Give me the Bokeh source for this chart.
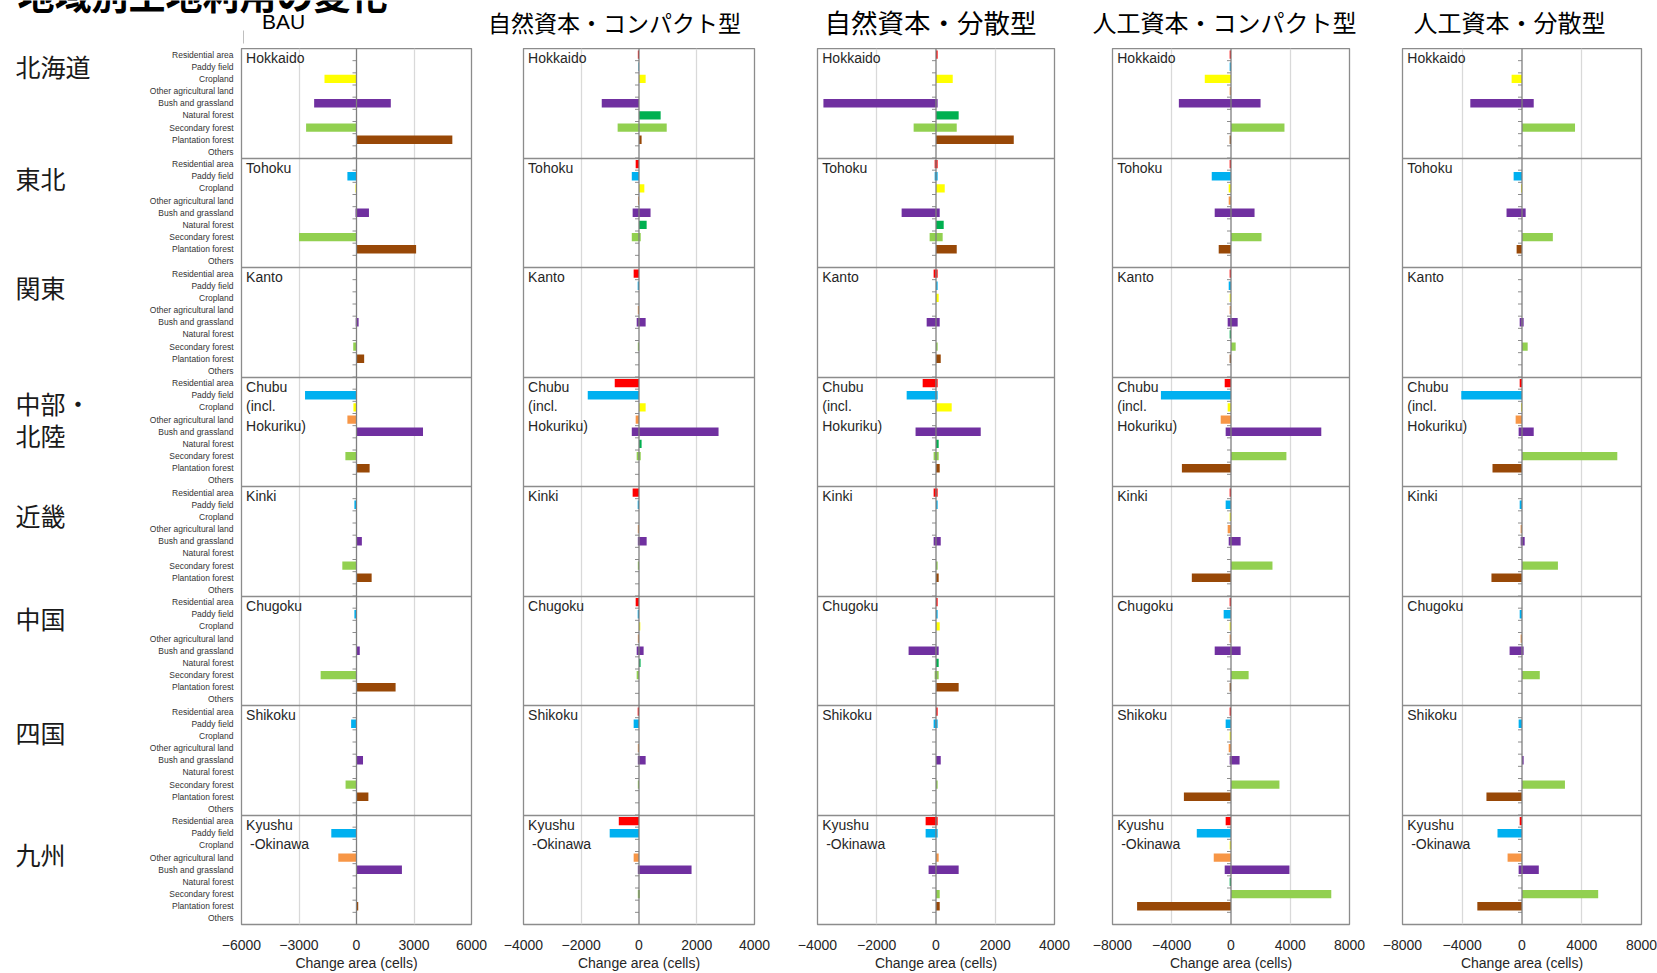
from bokeh.plotting import figure
from bokeh.layouts import row, column
from bokeh.models import Range1d, FixedTicker, Span, ColumnDataSource, Grid
from bokeh.core.properties import value
from bokeh.embed import file_html
from bokeh.resources import INLINE

# ---------------- data ----------------
main_title = "地域別土地利用の変化"
categories = ["Residential area", "Paddy field", "Cropland", "Other agricultural land",
              "Bush and grassland", "Natural forest", "Secondary forest", "Plantation forest", "Others"]
regions_en = ["Hokkaido", "Tohoku", "Kanto", "Chubu\n(incl.\nHokuriku)", "Kinki", "Chugoku",
              "Shikoku", "Kyushu\n\u00a0-Okinawa"]
regions_jp = ["北海道", "東北", "関東", "中部・\n北陸", "近畿", "中国", "四国", "九州"]
scenario_names = ["BAU", "自然資本・コンパクト型", "自然資本・分散型", "人工資本・コンパクト型", "人工資本・分散型"]
ticks_bau = [-6000, -3000, 0, 3000, 6000]
ticks_nat = [-4000, -2000, 0, 2000, 4000]
ticks_art = [-8000, -4000, 0, 4000, 8000]
axis_title = "Change area (cells)"

# losses (negative) and gains (positive): rows = regions, cols = categories
bau_loss = [[0, 0, -1670, 0, -2210, 0, -2630, 0, 0],
            [0, -475, -50, 0, -50, 0, -3000, 0, 0],
            [0, 0, 0, 0, -40, 0, -170, 0, 0],
            [0, -2685, -160, -475, 0, 0, -580, 0, 0],
            [0, -110, 0, 0, 0, 0, -740, 0, 0],
            [0, -110, 0, 0, 0, 0, -1870, 0, 0],
            [0, -280, 0, 0, 0, 0, -570, 0, 0],
            [0, -1315, 0, -950, 0, 0, 0, 0, 0]]
bau_gain = [[0, 0, 0, 0, 1790, 0, 0, 5000, 0],
            [0, 0, 0, 0, 650, 0, 0, 3110, 0],
            [0, 0, 0, 0, 110, 0, 0, 400, 0],
            [0, 0, 0, 0, 3470, 0, 0, 685, 0],
            [0, 0, 0, 0, 280, 0, 0, 790, 0],
            [0, 0, 0, 0, 170, 0, 0, 2040, 0],
            [0, 0, 0, 0, 340, 0, 0, 620, 0],
            [0, 0, 0, 0, 2370, 0, 0, 90, 0]]

nc_loss = [[-40, -20, 0, 0, -1290, 0, -740, 0, 0],
           [-115, -250, 0, -35, -220, 0, -250, 0, 0],
           [-185, -45, 0, -40, -80, 0, -40, 0, 0],
           [-840, -1775, 0, -115, -250, 0, -80, 0, 0],
           [-220, -45, 0, -40, -40, 0, -40, 0, 0],
           [-115, -45, 0, -40, -80, 0, -80, 0, 0],
           [-45, -185, 0, -40, -40, 0, -40, 0, 0],
           [-700, -1015, 0, -185, -40, 0, -40, 0, 0]]
nc_gain = [[0, 0, 230, 0, 0, 750, 960, 90, 0],
           [0, 0, 185, 0, 400, 265, 60, 0, 0],
           [0, 0, 0, 0, 230, 0, 0, 0, 0],
           [0, 0, 230, 0, 2755, 90, 60, 0, 0],
           [0, 0, 0, 0, 265, 0, 0, 0, 0],
           [0, 0, 45, 0, 160, 55, 0, 0, 0],
           [0, 0, 0, 0, 230, 0, 0, 0, 0],
           [0, 0, 0, 0, 1820, 0, 30, 0, 0]]

nd_loss = [[0, 0, 0, 0, -3800, 0, -755, 0, 0],
           [-45, -45, 0, 0, -1160, 0, -215, 0, 0],
           [-80, 0, 0, 0, -315, 0, 0, 0, 0],
           [-450, -990, 0, 0, -690, 0, -80, 0, 0],
           [-80, 0, 0, 0, -80, 0, 0, 0, 0],
           [0, 0, 0, 0, -925, 0, -45, 0, 0],
           [0, -80, 0, 0, 0, 0, 0, 0, 0],
           [-350, -350, 0, 0, -250, 0, 0, 0, 0]]
nd_gain = [[55, 0, 565, 0, 55, 765, 700, 2625, 0],
           [55, 55, 295, 0, 125, 260, 225, 700, 0],
           [55, 55, 90, 0, 125, 0, 55, 160, 0],
           [55, 55, 530, 0, 1510, 90, 90, 125, 0],
           [55, 55, 0, 0, 160, 0, 55, 90, 0],
           [55, 55, 125, 0, 90, 90, 90, 765, 0],
           [55, 55, 0, 0, 160, 0, 55, 0, 0],
           [55, 55, 0, 90, 765, 0, 125, 125, 0]]

ac_loss = [[-90, -90, -1770, -90, -3520, 0, 0, -90, 0],
           [-90, -1300, -155, -155, -1100, 0, 0, -830, 0],
           [-90, -155, -90, -90, -225, -90, 0, -90, 0],
           [-425, -4730, -225, -695, -360, 0, 0, -3315, 0],
           [-90, -360, -90, -225, -155, 0, 0, -2645, 0],
           [-90, -495, -90, -90, -1100, 0, 0, -90, 0],
           [-90, -360, -90, -155, -90, 0, 0, -3180, 0],
           [-360, -2310, -90, -1165, -425, -90, 0, -6340, 0]]
ac_gain = [[0, 0, 0, 0, 1995, 0, 3610, 0, 0],
           [0, 0, 0, 0, 1590, 0, 2060, 0, 0],
           [0, 0, 0, 0, 450, 0, 315, 0, 0],
           [0, 0, 0, 0, 6095, 0, 3740, 0, 0],
           [0, 0, 0, 0, 650, 0, 2800, 0, 0],
           [0, 0, 0, 0, 650, 0, 1190, 0, 0],
           [0, 0, 0, 0, 580, 0, 3270, 0, 0],
           [0, 0, 0, 0, 3945, 0, 6770, 0, 0]]

ad_loss = [[0, 0, -695, 0, -3460, 0, 0, 0, 0],
           [0, -560, -65, 0, -1035, 0, 0, -360, 0],
           [0, 0, 0, 0, -155, 0, 0, 0, 0],
           [-155, -4065, -65, -425, -225, 0, 0, -1975, 0],
           [0, -155, 0, -90, -90, 0, 0, -2045, 0],
           [0, -155, 0, -90, -830, 0, 0, 0, 0],
           [0, -225, 0, 0, 0, 0, 0, -2380, 0],
           [-155, -1640, 0, -965, -225, 0, 0, -2990, 0]]
ad_gain = [[0, 0, 0, 0, 785, 0, 3550, 0, 0],
           [0, 0, 0, 0, 245, 0, 2065, 0, 0],
           [0, 0, 0, 0, 110, 0, 380, 0, 0],
           [0, 0, 0, 0, 785, 0, 6380, 0, 0],
           [0, 0, 0, 0, 180, 0, 2405, 0, 0],
           [0, 0, 0, 0, 110, 0, 1190, 0, 0],
           [0, 0, 0, 0, 110, 0, 2875, 0, 0],
           [0, 0, 0, 0, 1125, 0, 5100, 0, 0]]

# ---------------- style ----------------
cat_colors = ["#FF0000", "#00B0F0", "#FFFF00", "#F79646", "#7030A0",
              "#00B050", "#92D050", "#984807", "#A6A6A6"]
LATIN = "Liberation Sans"
CJK = "Noto Sans CJK JP"
NC = len(categories)
NR = len(regions_en)
PAGE_W, PAGE_H = 1657, 973
HEAD_H = 48
BOT = 49
BODY_H = PAGE_H - HEAD_H
jp_offsets = [0.94, 1.14, 1.14, 2.93, 1.84, 1.34, 1.7, 2.73]


def make_panel(loss, gain, ticks, fig_w, ml, mr, show_cats):
    xlim = ticks[-1]
    frame_w = fig_w - ml - mr
    p = figure(width=fig_w, height=BODY_H,
               x_range=Range1d(-xlim, xlim), y_range=Range1d(NR * NC - 0.5, -0.5),
               output_backend="svg", toolbar_location=None,
               min_border_left=ml, min_border_right=mr, min_border_top=0, min_border_bottom=BOT,
               y_axis_location="left" if show_cats else None,
               background_fill_color="white", border_fill_color="white")
    p.outline_line_color = "#8C8C8C"
    p.outline_line_width = 1.3

    ys, lefts, rights, cols = [], [], [], []
    for r in range(NR):
        for c in range(NC):
            y = r * NC + c
            if loss[r][c]:
                ys.append(y); lefts.append(loss[r][c]); rights.append(0); cols.append(cat_colors[c])
            if gain[r][c]:
                ys.append(y); lefts.append(0); rights.append(gain[r][c]); cols.append(cat_colors[c])
    src = ColumnDataSource(dict(y=ys, left=lefts, right=rights, color=cols))
    p.hbar(y="y", left="left", right="right", height=0.68, fill_color="color",
           line_color=None, source=src)

    # small tick marks on the zero axis
    tl = 4 * (2 * xlim) / frame_w
    bnd = [k + 0.5 for k in range(NR * NC - 1)]
    p.segment(x0=[0] * len(bnd), x1=[-tl] * len(bnd), y0=bnd, y1=bnd,
              line_color="#8C8C8C", line_width=1)

    # grids
    p.xgrid.ticker = FixedTicker(ticks=[ticks[1], ticks[3]])
    p.xgrid.grid_line_color = "#D9D9D9"
    p.xgrid.grid_line_width = 1.3
    for g in p.ygrid:
        g.visible = False
    p.add_layout(Grid(dimension=1, ticker=FixedTicker(ticks=[r * NC - 0.5 for r in range(1, NR)]),
                      grid_line_color="#8C8C8C", grid_line_width=1.3))
    p.add_layout(Span(location=0, dimension="height", line_color="#7F7F7F", line_width=1.3))

    # region names inside each panel
    p.text(x=[-xlim * 0.96] * NR, y=[r * NC - 0.35 for r in range(NR)], text=regions_en,
           text_align="left", text_baseline="top", text_font=value(LATIN),
           text_font_size="14px", text_color="#262626", text_line_height=1.22)

    xa = p.xaxis[0]
    xa.ticker = FixedTicker(ticks=ticks)
    xa.axis_line_color = None
    xa.major_tick_line_color = None
    xa.minor_tick_line_color = None
    xa.major_tick_out = 0
    xa.major_label_standoff = 15
    xa.major_label_text_font = LATIN
    xa.major_label_text_font_size = "14px"
    xa.major_label_text_color = "#262626"
    xa.axis_label = axis_title
    xa.axis_label_text_font = LATIN
    xa.axis_label_text_font_size = "14px"
    xa.axis_label_text_font_style = "normal"
    xa.axis_label_text_color = "#262626"
    xa.axis_label_standoff = 2

    if show_cats:
        ya = p.yaxis[0]
        ys_t = [r * NC + c for r in range(NR) for c in range(NC)]
        ya.ticker = FixedTicker(ticks=ys_t)
        ya.major_label_overrides = {r * NC + c: categories[c] for r in range(NR) for c in range(NC)}
        ya.axis_line_color = None
        ya.major_tick_line_color = None
        ya.minor_tick_line_color = None
        ya.major_tick_out = 0
        ya.major_label_standoff = 8
        ya.major_label_text_font = LATIN
        ya.major_label_text_font_size = "8.5px"
        ya.major_label_text_color = "#333333"
    return p


# header with titles
head = figure(width=PAGE_W, height=HEAD_H, x_range=Range1d(0, PAGE_W), y_range=Range1d(HEAD_H, 0),
              output_backend="svg", toolbar_location=None, x_axis_location=None, y_axis_location=None,
              min_border_left=0, min_border_right=0, min_border_top=0, min_border_bottom=0,
              outline_line_color=None)
head.xgrid.visible = False
head.ygrid.visible = False
head.text(x=[17], y=[7.5], text=[main_title], text_align="left", text_baseline="alphabetic",
          y_offset=-14,
          text_font=value(CJK), text_font_size="37px", text_font_style="bold", text_color="#000000")
head.segment(x0=[243], x1=[243], y0=[30], y1=[43], line_color="#BFBFBF", line_width=1)
head.text(x=[283], y=[21], text=[scenario_names[0]], text_align="center", text_baseline="middle",
          text_font=value(LATIN), text_font_size="21px", text_color="#000000")
title_x = [614, 930, 1224, 1509]
title_sizes = ["23px", "26.5px", "24px", "24px"]
for tx, ts, tt in zip(title_x, title_sizes, scenario_names[1:]):
    head.text(x=[tx], y=[21], text=[tt], text_align="center",
              text_baseline="middle", text_font=value(CJK), text_font_size=ts, text_color="#000000")

# left column with Japanese region names
left = figure(width=140, height=BODY_H, x_range=Range1d(0, 140), y_range=Range1d(NR * NC - 0.5, -0.5),
              output_backend="svg", toolbar_location=None, x_axis_location=None, y_axis_location=None,
              min_border_left=0, min_border_right=0, min_border_top=0, min_border_bottom=BOT,
              outline_line_color=None)
left.xgrid.visible = False
left.ygrid.visible = False
left.text(x=[15] * NR, y=[r * NC + jp_offsets[r] for r in range(NR)], text=regions_jp,
          text_align="left", text_baseline="middle", text_font=value(CJK),
          text_font_size="25px", text_color="#1A1A1A", text_line_height=0.9)

p1 = make_panel(bau_loss, bau_gain, ticks_bau, 348, 101, 17, True)
p2 = make_panel(nc_loss, nc_gain, ticks_nat, 298, 35, 32, False)
p3 = make_panel(nd_loss, nd_gain, ticks_nat, 297, 31, 29, False)
p4 = make_panel(ac_loss, ac_gain, ticks_art, 293, 29, 27, False)
p5 = make_panel(ad_loss, ad_gain, ticks_art, 281, 26, 16, False)

layout = column(head, row(left, p1, p2, p3, p4, p5, spacing=0), spacing=0)
open("out.html", "w").write(file_html(layout, INLINE))
